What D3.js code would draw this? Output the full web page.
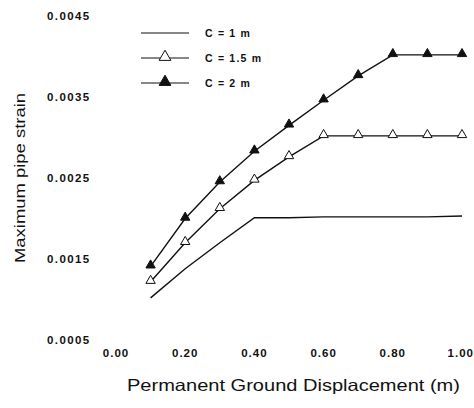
<!DOCTYPE html>
<html>
<head>
<meta charset="utf-8">
<script src="https://cdn.jsdelivr.net/npm/d3@7"></script>
<style>
  html, body { margin: 0; padding: 0; background: #fff; }
  svg { display: block; font-family: "Liberation Sans", Arial, sans-serif; }
</style>
</head>
<body>
<svg id="chart" width="474" height="408"></svg>
<script>
// ---- data ----
const displacement = [0.1, 0.2, 0.3, 0.4, 0.5, 0.6, 0.7, 0.8, 0.9, 1.0];
const strainC1  = [0.00102, 0.00138, 0.00170, 0.00201, 0.00201, 0.00202, 0.00202, 0.00202, 0.00202, 0.00203];
const strainC15 = [0.00122, 0.00170, 0.00212, 0.00247, 0.00276, 0.00302, 0.00302, 0.00302, 0.00302, 0.00302];
const strainC2  = [0.00141, 0.00200, 0.00245, 0.00283, 0.00315, 0.00346, 0.00376, 0.00402, 0.00402, 0.00402];
const seriesNames = ["C = 1 m", "C = 1.5 m", "C = 2 m"];
const markerTypes = ["none", "open", "filled"];
const xTicks = [0, 0.2, 0.4, 0.6, 0.8, 1.0];
const xTickLabels = ["0.00", "0.20", "0.40", "0.60", "0.80", "1.00"];
const yTicks = [0.0005, 0.0015, 0.0025, 0.0035, 0.0045];
const yTickLabels = ["0.0005", "0.0015", "0.0025", "0.0035", "0.0045"];
const xTitle = "Permanent Ground Displacement (m)";
const yTitle = "Maximum pipe strain";

const series = [strainC1, strainC15, strainC2].map((vals, i) => ({
  name: seriesNames[i], marker: markerTypes[i],
  points: displacement.map((d, j) => ({ x: d, y: vals[j] }))
}));

const svg = d3.select("#chart");
const x = d3.scaleLinear().domain([0, 1]).range([116, 462]);
const y = d3.scaleLinear().domain([0.0005, 0.0045]).range([340, 16]);
const ink = "#111";

// y tick labels
svg.append("g").selectAll("text").data(yTicks).join("text")
  .attr("x", 47).attr("y", d => y(d)).attr("dy", "0.36em")
  .attr("font-size", 11.5).attr("font-weight", "bold")
  .attr("letter-spacing", 1.4).attr("fill", ink)
  .text((d, i) => yTickLabels[i]);

// x tick labels
svg.append("g").selectAll("text").data(xTicks).join("text")
  .attr("x", (d, i) => i === xTicks.length - 1 ? 474 : x(d))
  .attr("y", 357)
  .attr("text-anchor", (d, i) => i === xTicks.length - 1 ? "end" : "middle")
  .attr("font-size", 11.5).attr("font-weight", "bold")
  .attr("letter-spacing", 1.0).attr("fill", ink)
  .text((d, i) => xTickLabels[i]);

// axis titles
svg.append("text").attr("x", 127).attr("y", 391)
  .attr("font-size", 16.5).attr("fill", ink)
  .attr("textLength", 333).attr("lengthAdjust", "spacingAndGlyphs")
  .text(xTitle);
svg.append("text")
  .attr("transform", "translate(25,263) rotate(-90)")
  .attr("font-size", 14.5).attr("fill", ink)
  .attr("textLength", 170).attr("lengthAdjust", "spacingAndGlyphs")
  .text(yTitle);

// lines
const line = d3.line().x(d => x(d.x)).y(d => y(d.y));
const gPlot = svg.append("g");
gPlot.selectAll("path.series").data(series).join("path")
  .attr("class", "series")
  .attr("d", d => line(d.points))
  .attr("fill", "none").attr("stroke", ink).attr("stroke-width", 1.4);

const tri = d3.symbol().type(d3.symbolTriangle).size(38);
series.forEach(s => {
  if (s.marker === "none") return;
  gPlot.append("g").selectAll("path").data(s.points).join("path")
    .attr("d", tri)
    .attr("transform", d => `translate(${x(d.x)},${y(d.y) - 1})`)
    .attr("fill", s.marker === "filled" ? ink : "#fff")
    .attr("stroke", ink).attr("stroke-width", 1);
});

// legend
const legendRows = [33, 58, 83];
const lg = svg.append("g");
series.forEach((s, i) => {
  const ly = legendRows[i];
  lg.append("line").attr("x1", 141).attr("x2", 189).attr("y1", ly).attr("y2", ly)
    .attr("stroke", ink).attr("stroke-width", 1.2);
  if (s.marker !== "none") {
    lg.append("path").attr("d", d3.symbol().type(d3.symbolTriangle).size(60))
      .attr("transform", `translate(165,${ly - 1})`)
      .attr("fill", s.marker === "filled" ? ink : "#fff")
      .attr("stroke", ink).attr("stroke-width", 1);
  }
  lg.append("text").attr("x", 205).attr("y", ly).attr("dy", "0.36em")
    .attr("font-size", 10.5).attr("font-weight", "bold")
    .attr("letter-spacing", 1.2).attr("fill", ink)
    .text(s.name);
});
</script>
</body>
</html>
